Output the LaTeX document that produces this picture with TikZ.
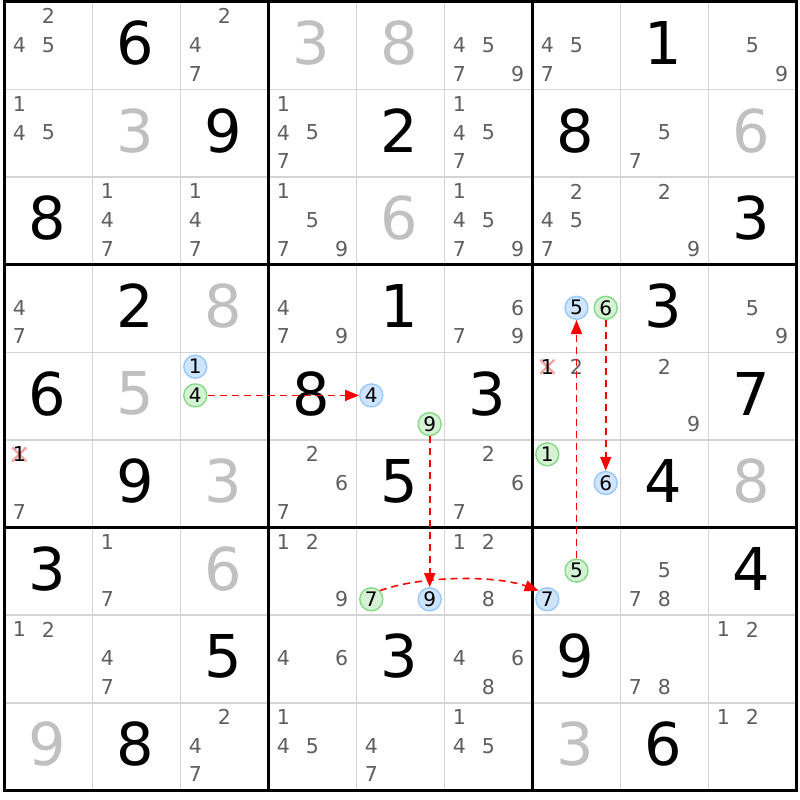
\documentclass[tikz,border=0pt]{standalone}
\usepackage{fontspec}
\setmainfont{DejaVu Sans}
\usetikzlibrary{arrows.meta}
\definecolor{candgray}{HTML}{5F5F5F}
\definecolor{solvgray}{HTML}{C0C0C0}
\definecolor{thingray}{HTML}{D4D4D4}
\definecolor{bfill}{HTML}{CFE5FF}
\definecolor{bline}{HTML}{99C8FF}
\definecolor{gfill}{HTML}{D5F2D5}
\definecolor{gline}{HTML}{86D986}
\definecolor{xpink}{HTML}{F4A3A3}
\definecolor{arrred}{HTML}{FF0000}
\tikzset{
  givd/.style={inner sep=0pt, text=black, font=\fontsize{59}{62}\selectfont},
  solvd/.style={inner sep=0pt, text=solvgray, font=\fontsize{59}{62}\selectfont},
  cand/.style={inner sep=0pt, text=candgray, font=\fontsize{20.5}{22}\selectfont},
  candx/.style={inner sep=0pt, text=black, font=\fontsize{20.5}{22}\selectfont},
  bcirc/.style={circle, minimum size=23pt, inner sep=0pt, draw=bline, fill=bfill, line width=1.4pt, text=black, font=\fontsize{20}{22}\selectfont},
  gcirc/.style={circle, minimum size=23pt, inner sep=0pt, draw=gline, fill=gfill, line width=1.4pt, text=black, font=\fontsize{20}{22}\selectfont},
  xmark/.style={draw=xpink, line width=2.4pt},
  thinline/.style={draw=thingray, line width=1.6pt},
  thickline/.style={draw=black, line width=3pt},
  link/.style={draw=arrred, line width=1.6pt, dash pattern=on 7pt off 5pt, -{Triangle[length=14pt,width=11pt]}},
}
\newcommand\setcp[3]{%
  \pgfmathsetmacro\cpx{4.5+88*(#2-0.5)+29.2*(mod(#3-1,3)-1)}%
  \pgfmathsetmacro\cpy{1.2+87.6*(#1-0.5)+28.7*(int((#3-1)/3)-1)}}
\newcommand\gv[3]{\node[givd] (v#1#2) at ({4.5+88*(#2-0.5)-0.8},{-0.5+87.6*(#1-0.5)}) {#3};}
\newcommand\sv[3]{\node[solvd] (v#1#2) at ({4.5+88*(#2-0.5)-0.8},{-0.5+87.6*(#1-0.5)}) {#3};}
\newcommand\cd[3]{\foreach \d in {#3}{\setcp{#1}{#2}{\d}\node[cand] (c#1#2\d) at (\cpx,\cpy) {\d};}}
\newcommand\bcir[4]{\setcp{#1}{#2}{#3}\node[bcirc] (#4) at (\cpx,\cpy) {#3};}
\newcommand\gcir[4]{\setcp{#1}{#2}{#3}\node[gcirc] (#4) at (\cpx,\cpy) {#3};}
\newcommand\xcand[3]{\setcp{#1}{#2}{#3}%
  \draw[xmark] (\cpx-7,\cpy-7) -- (\cpx+7,\cpy+7);
  \draw[xmark] (\cpx-7,\cpy+7) -- (\cpx+7,\cpy-7);
  \node[candx] (c#1#2#3) at (\cpx,\cpy) {#3};}
\begin{document}
\begin{tikzpicture}[x=1pt,y=-1pt]
\useasboundingbox[fill=white] (0,0) rectangle (800,800);
% grid
\foreach \i in {1,2,4,5,7,8}{
  \draw[thinline] ({4.5+88*\i},2) -- ({4.5+88*\i},790);
  \draw[thinline] (4.5,{2+87.6*\i}) -- (796.5,{2+87.6*\i});
}
\foreach \i in {0,3,6,9}{
  \draw[thickline] ({4.5+88*\i},0.5) -- ({4.5+88*\i},791.5);
  \draw[thickline] (3,{2+87.6*\i}) -- (798,{2+87.6*\i});
}
% given digits
\gv{1}{2}{6}\gv{1}{8}{1}
\gv{2}{3}{9}\gv{2}{5}{2}\gv{2}{7}{8}
\gv{3}{1}{8}\gv{3}{9}{3}
\gv{4}{2}{2}\gv{4}{5}{1}\gv{4}{8}{3}
\gv{5}{1}{6}\gv{5}{4}{8}\gv{5}{6}{3}\gv{5}{9}{7}
\gv{6}{2}{9}\gv{6}{5}{5}\gv{6}{8}{4}
\gv{7}{1}{3}\gv{7}{9}{4}
\gv{8}{3}{5}\gv{8}{5}{3}\gv{8}{7}{9}
\gv{9}{2}{8}\gv{9}{8}{6}
% solved digits
\sv{1}{4}{3}\sv{1}{5}{8}
\sv{2}{2}{3}\sv{2}{9}{6}
\sv{3}{5}{6}
\sv{4}{3}{8}
\sv{5}{2}{5}
\sv{6}{3}{3}\sv{6}{9}{8}
\sv{7}{3}{6}
\sv{9}{1}{9}\sv{9}{7}{3}
% candidates
\cd{1}{1}{2,4,5}\cd{1}{3}{2,4,7}\cd{1}{6}{4,5,7,9}\cd{1}{7}{4,5,7}\cd{1}{9}{5,9}
\cd{2}{1}{1,4,5}\cd{2}{4}{1,4,5,7}\cd{2}{6}{1,4,5,7}\cd{2}{8}{5,7}
\cd{3}{2}{1,4,7}\cd{3}{3}{1,4,7}\cd{3}{4}{1,5,7,9}\cd{3}{6}{1,4,5,7,9}\cd{3}{7}{2,4,5,7}\cd{3}{8}{2,9}
\cd{4}{1}{4,7}\cd{4}{4}{4,7,9}\cd{4}{6}{6,7,9}\cd{4}{9}{5,9}
\cd{5}{7}{2}\cd{5}{8}{2,9}
\cd{6}{1}{7}\cd{6}{4}{2,6,7}\cd{6}{6}{2,6,7}
\cd{7}{2}{1,7}\cd{7}{4}{1,2,9}\cd{7}{6}{1,2,8}\cd{7}{8}{5,7,8}
\cd{8}{1}{1,2}\cd{8}{2}{4,7}\cd{8}{4}{4,6}\cd{8}{6}{4,6,8}\cd{8}{8}{7,8}\cd{8}{9}{1,2}
\cd{9}{3}{2,4,7}\cd{9}{4}{1,4,5}\cd{9}{5}{4,7}\cd{9}{6}{1,4,5}\cd{9}{9}{1,2}
% eliminated candidates
\xcand{5}{7}{1}
\xcand{6}{1}{1}
% highlighted candidates
\bcir{4}{7}{5}{b47}\gcir{4}{7}{6}{g47}
\bcir{5}{3}{1}{b53}\gcir{5}{3}{4}{g53}
\bcir{5}{5}{4}{b55}\gcir{5}{5}{9}{g55}
\gcir{6}{7}{1}{g67}\bcir{6}{7}{6}{b67}
\gcir{7}{5}{7}{g75}\bcir{7}{5}{9}{b75}
\gcir{7}{7}{5}{g77}\bcir{7}{7}{7}{b77}
% links
\draw[link] (g53) -- (b55);
\draw[link] (g55) -- (b75);
\draw[link] (g75.45) .. controls +(-20:45) and +(-160:45) .. (b77.135);
\draw[link] (g77) -- (b47);
\draw[link] (g47) -- (b67);
\end{tikzpicture}
\end{document}
